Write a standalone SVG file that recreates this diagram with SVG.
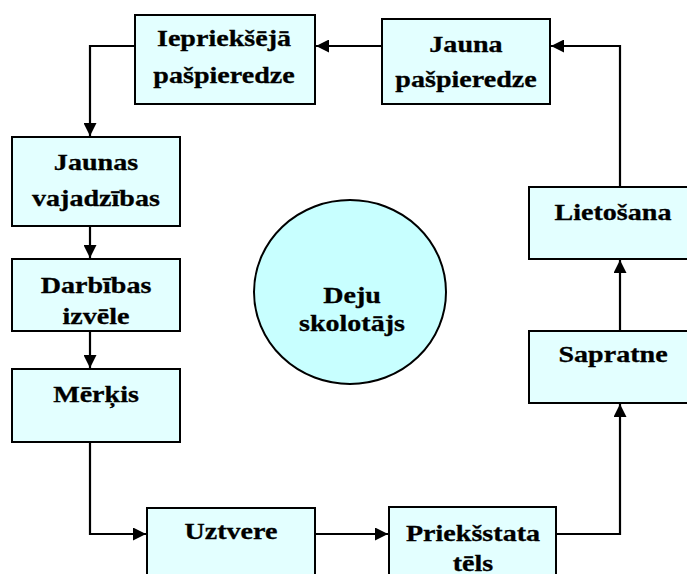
<svg xmlns="http://www.w3.org/2000/svg" width="687" height="574" viewBox="0 0 687 574">
<defs>
<style>
.box{fill:#E3FFFF;stroke:#000;stroke-width:2}
.circ{fill:#C8FFFF;stroke:#000;stroke-width:2}
.t{font-family:"Liberation Serif","Times New Roman",serif;font-weight:bold;font-size:24px;fill:#000;stroke:#000;stroke-width:0.3;text-anchor:middle}
.c{fill:none;stroke:#000;stroke-width:2.2}
</style>
<marker id="ah" viewBox="0 0 12 12" refX="12" refY="6" markerWidth="13" markerHeight="13" markerUnits="userSpaceOnUse" orient="auto">
<path d="M0,0 L12,6 L0,12 z" fill="#000"/>
</marker>
</defs>
<rect width="687" height="574" fill="#fff"/>
<g id="connectors">
<path class="c" d="M382,46 L316,46" marker-end="url(#ah)"/>
<path class="c" d="M135,46 L90,46 L90,136" marker-end="url(#ah)"/>
<path class="c" d="M90,226 L90,258" marker-end="url(#ah)"/>
<path class="c" d="M90,331 L90,368" marker-end="url(#ah)"/>
<path class="c" d="M90,442 L90,534 L146,534" marker-end="url(#ah)"/>
<path class="c" d="M315,534 L388,534" marker-end="url(#ah)"/>
<path class="c" d="M556,534 L620,534 L620,404" marker-end="url(#ah)"/>
<path class="c" d="M620,331 L620,260" marker-end="url(#ah)"/>
<path class="c" d="M620,187 L620,46 L551,46" marker-end="url(#ah)"/>
</g>
<g id="iepriekseja">
<rect class="box" x="135" y="15" width="180" height="89"/>
<text class="t" x="0" y="46" transform="translate(224,0) scale(1.17,1)">Iepriekšējā</text>
<text class="t" x="0" y="83" transform="translate(224,0) scale(1.17,1)">pašpieredze</text>
</g>
<g id="jauna">
<rect class="box" x="382" y="19" width="168" height="85"/>
<text class="t" x="0" y="52" transform="translate(466,0) scale(1.17,1)">Jauna</text>
<text class="t" x="0" y="87" transform="translate(466,0) scale(1.17,1)">pašpieredze</text>
</g>
<g id="jaunas">
<rect class="box" x="12" y="137" width="168" height="89"/>
<text class="t" x="0" y="170" transform="translate(96,0) scale(1.17,1)">Jaunas</text>
<text class="t" x="0" y="206" transform="translate(96,0) scale(1.17,1)">vajadzības</text>
</g>
<g id="darbibas">
<rect class="box" x="12" y="259" width="168" height="72"/>
<text class="t" x="0" y="293" transform="translate(96,0) scale(1.17,1)">Darbības</text>
<text class="t" x="0" y="324" transform="translate(96,0) scale(1.17,1)">izvēle</text>
</g>
<g id="merkis">
<rect class="box" x="12" y="369" width="168" height="73"/>
<text class="t" x="0" y="402" transform="translate(96,0) scale(1.17,1)">Mērķis</text>
</g>
<g id="uztvere">
<rect class="box" x="147" y="508" width="168" height="80"/>
<text class="t" x="0" y="539" transform="translate(231,0) scale(1.17,1)">Uztvere</text>
</g>
<g id="prieksstata">
<rect class="box" x="389" y="507" width="167" height="80"/>
<text class="t" x="0" y="541" transform="translate(473,0) scale(1.17,1)">Priekšstata</text>
<text class="t" x="0" y="571" transform="translate(473,0) scale(1.17,1)">tēls</text>
</g>
<g id="sapratne">
<rect class="box" x="529" y="331" width="168" height="72"/>
<text class="t" x="0" y="362" transform="translate(613,0) scale(1.17,1)">Sapratne</text>
</g>
<g id="lietosana">
<rect class="box" x="529" y="187" width="168" height="72"/>
<text class="t" x="0" y="220" transform="translate(613,0) scale(1.17,1)">Lietošana</text>
</g>
<g id="deju">
<ellipse class="circ" cx="350" cy="292" rx="96" ry="92"/>
<text class="t" x="0" y="303" transform="translate(352,0) scale(1.17,1)">Deju</text>
<text class="t" x="0" y="331" transform="translate(352,0) scale(1.17,1)">skolotājs</text>
</g>
</svg>
